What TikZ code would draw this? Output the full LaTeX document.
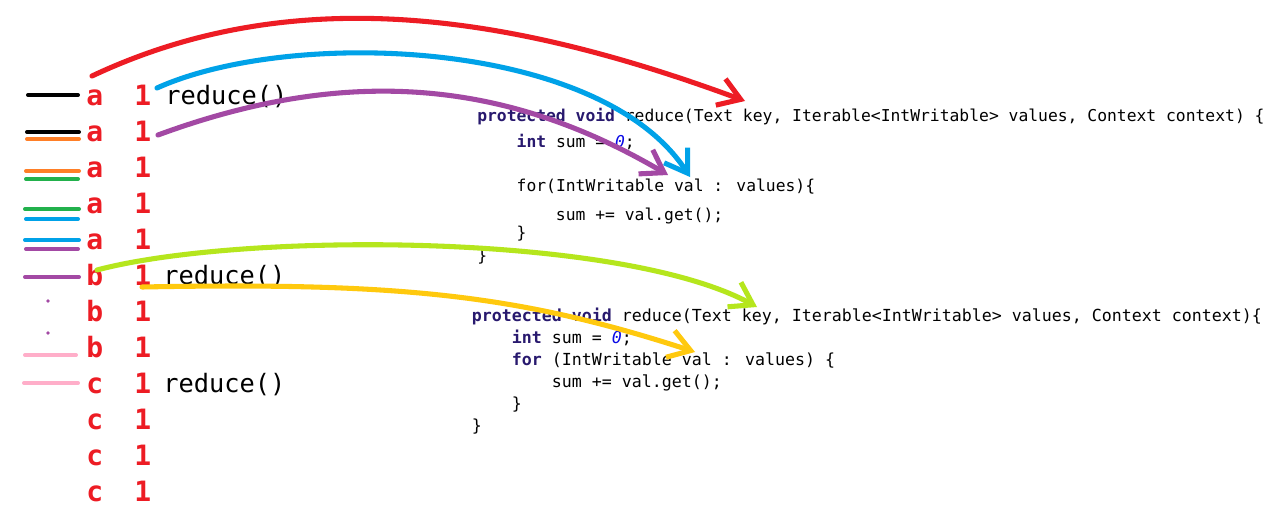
\documentclass[tikz,border=0pt]{standalone}
\usepackage{fontspec}
\usepackage{xcolor}
\newfontfamily\codefont{DejaVu Sans Mono}
\usetikzlibrary{arrows.meta}
\definecolor{pRed}{RGB}{237,28,36}
\definecolor{pOrange}{RGB}{255,127,39}
\definecolor{pGreen}{RGB}{34,177,76}
\definecolor{pBlue}{RGB}{0,162,232}
\definecolor{pPurple}{RGB}{163,73,164}
\definecolor{pPink}{RGB}{255,174,201}
\definecolor{pLime}{RGB}{181,230,29}
\definecolor{pGold}{RGB}{255,201,14}
\definecolor{kwd}{RGB}{40,25,110}
\definecolor{num}{RGB}{10,10,230}
\newcommand{\kw}[1]{\textcolor{kwd}{\bfseries #1}}
\newcommand{\zero}{\textcolor{num}{\itshape 0}}
\tikzset{
  keytext/.style={anchor=base west,inner sep=0pt,text=pRed,font=\codefont\bfseries\fontsize{21}{21}\selectfont},
  calltext/.style={anchor=base west,inner sep=0pt,font=\codefont\fontsize{19}{19}\selectfont},
  codeA/.style={anchor=base west,inner sep=0pt,font=\codefont\fontsize{12.26}{14}\selectfont},
  codeB/.style={anchor=base west,inner sep=0pt,font=\codefont\fontsize{12.46}{14}\selectfont},
  mark line/.style={line width=3pt,line cap=round},
  stroke/.style={line width=3.8pt,line cap=round,line join=round,
    -{Straight Barb[length=16pt,width=21pt]}}
}

\begin{document}
\begin{tikzpicture}[x=0.75pt,y=-0.75pt]
\path[use as bounding box,fill=white](0,0) rectangle (1284,518);
%
% key / value pairs
\node[keytext](k1) at (86,105){a};
\node[keytext](k2) at (86,141){a};
\node[keytext](k3) at (86,177){a};
\node[keytext](k4) at (86,213){a};
\node[keytext](k5) at (86,249){a};
\node[keytext](k6) at (86,285){b};
\node[keytext](k7) at (86,321){b};
\node[keytext](k8) at (86,357){b};
\node[keytext](k9) at (86,393){c};
\node[keytext](k10) at (86,429){c};
\node[keytext](k11) at (86,465){c};
\node[keytext](k12) at (86,501){c};

\node[keytext](n1) at (134,105){1};
\node[keytext](n2) at (134,141){1};
\node[keytext](n3) at (134,177){1};
\node[keytext](n4) at (134,213){1};
\node[keytext](n5) at (134,249){1};
\node[keytext](n6) at (134,285){1};
\node[keytext](n7) at (134,321){1};
\node[keytext](n8) at (134,357){1};
\node[keytext](n9) at (134,393){1};
\node[keytext](n10) at (134,429){1};
\node[keytext](n11) at (134,465){1};
\node[keytext](n12) at (134,501){1};

\node[calltext](rd1) at (165,104){reduce()};
\node[calltext](rd2) at (163,284){reduce()};
\node[calltext](rd3) at (163,392){reduce()};
%
% group marks
\draw[mark line,black](28,95)--(78,95);
\draw[mark line,black](27,132)--(79,132);
\draw[mark line,pOrange](27,139)--(79,139);
\draw[mark line,pOrange](26,171)--(79,171);
\draw[mark line,pGreen](26,179)--(78,179);
\draw[mark line,pGreen](25,209)--(79,209);
\draw[mark line,pBlue](26,219)--(78,219);
\draw[mark line,pBlue](25,240)--(79,240);
\draw[mark line,pPurple](26,249)--(78,249);
\draw[mark line,pPurple](25,277)--(79,277);
\fill[pPurple](48,301) circle (1.8);
\fill[pPurple](48,333) circle (1.8);
\draw[mark line,pPink](25,355)--(76,355);
\draw[mark line,pPink](24,383)--(78,383);
%
% first reducer
\node[codeA](a1) at (477,121){\kw{protected void} reduce(Text key, Iterable<IntWritable> values, Context context) \{};
\node[codeA](a2) at (516.4,147){\kw{int} sum = \zero;};
\node[codeA](a3) at (516.4,191){for(IntWritable val : values)\{};
\node[codeA](a4) at (555.7,220){sum += val.get();};
\node[codeA](a5) at (516.4,238){\}};
\node[codeA](a6) at (477,261){\}};
%
% second reducer
\node[codeB](b1) at (471.5,321){\kw{protected void} reduce(Text key, Iterable<IntWritable> values, Context context)\{};
\node[codeB](b2) at (511.5,343){\kw{int} sum = \zero;};
\node[codeB](b3) at (511.5,365){\kw{for} (IntWritable val : values) \{};
\node[codeB](b4) at (551.5,387){sum += val.get();};
\node[codeB](b5) at (511.5,409){\}};
\node[codeB](b6) at (471.5,431){\}};
%
% hand drawn arrows
\coordinate(redS) at (92,76);
\coordinate(redE) at (745,101);
\coordinate(blueS) at (157,88);
\coordinate(blueE) at (690,177);
\coordinate(purS) at (158,135);
\coordinate(purE) at (668,175);
\coordinate(limeS) at (97,270);
\coordinate(limeE) at (757,307);
\coordinate(goldS) at (142,287);
\coordinate(goldE) at (695,352);

\draw[stroke,pRed](redS) .. controls (300,-22) and (520,18) .. (redE);
\draw[stroke,pBlue](blueS) .. controls (290,28) and (600,38) .. (blueE);
\draw[stroke,pPurple](purS) .. controls (340,68) and (500,76) .. (purE);
\draw[stroke,pLime](limeS) .. controls (240,232) and (620,232) .. (limeE);
\draw[stroke,pGold](goldS) .. controls (400,282) and (520,295) .. (goldE);
\end{tikzpicture}
\end{document}
